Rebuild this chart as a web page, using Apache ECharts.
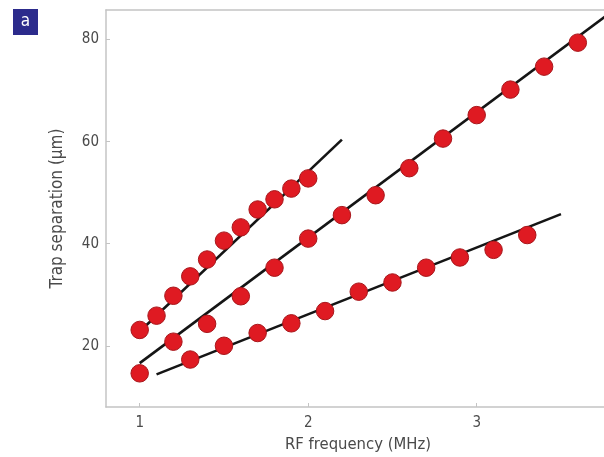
<!DOCTYPE html>
<html>
<head>
<meta charset="utf-8">
<script src="https://cdn.jsdelivr.net/npm/echarts@6/dist/echarts.min.js"></script>
<style>
  html, body { margin: 0; padding: 0; background: #ffffff; }
  #chart { width: 604px; height: 457px; }
</style>
</head>
<body>
<div id="chart"></div>
<script>
// Measured trap separations (µm) against RF drive frequency (MHz), three trap sets
const freqA = [1.0, 1.1, 1.2, 1.3, 1.4, 1.5, 1.6, 1.7, 1.8, 1.9, 2.0];
const sepA  = [23.1, 25.9, 29.8, 33.6, 36.9, 40.6, 43.2, 46.7, 48.7, 50.8, 52.8];

const freqB = [1.2, 1.4, 1.6, 1.8, 2.0, 2.2, 2.4, 2.6, 2.8, 3.0, 3.2, 3.4, 3.6];
const sepB  = [20.8, 24.3, 29.7, 35.3, 41.0, 45.6, 49.5, 54.8, 60.6, 65.2, 70.2, 74.7, 79.4];

const freqC = [1.0, 1.3, 1.5, 1.7, 1.9, 2.1, 2.3, 2.5, 2.7, 2.9, 3.1, 3.3];
const sepC  = [14.6, 17.3, 20.0, 22.5, 24.4, 26.8, 30.6, 32.4, 35.3, 37.3, 38.8, 41.7];

// Linear fits (end points of each fitted line)
const fitFreqA = [1.0, 2.2];
const fitSepA  = [22.8, 60.4];
const fitFreqB = [1.0, 3.79];
const fitSepB  = [16.6, 85.2];
const fitFreqC = [1.1, 3.5];
const fitSepC  = [14.4, 45.8];

// Axis tick positions
const xTicks = [1, 2, 3];
const yTicks = [20, 40, 60, 80];

const FONT = "'Liberation Sans Narrow', 'DejaVu Sans Condensed', 'Roboto', sans-serif";
const AXIS_GREY = '#c4c4c4';
const TEXT_GREY = '#4a4a4a';

const pairs = (xs, ys) => xs.map((x, i) => [x, ys[i]]);

const fitStyle = { color: '#151515', width: 2.6 };
const dotStyle = { color: '#df1a22', borderColor: '#a8161b', borderWidth: 1, opacity: 1 };

function fitSeries(xs, ys) {
  return {
    type: 'line', data: pairs(xs, ys), showSymbol: false, symbol: 'none',
    lineStyle: fitStyle, z: 2, silent: true, animation: false
  };
}
function dotSeries(xs, ys) {
  return {
    type: 'scatter', data: pairs(xs, ys), symbol: 'circle', symbolSize: 17.5,
    itemStyle: dotStyle, z: 3, animation: false
  };
}

const chart = echarts.init(document.getElementById('chart'), null, { renderer: 'canvas' });
chart.setOption({
  backgroundColor: '#ffffff',
  animation: false,
  grid: { left: 106, top: 10, width: 504, height: 397, containLabel: false, outerBoundsMode: 'none' },
  xAxis: [{
    type: 'value', min: 0.8, max: 3.791, position: 'bottom',
    name: 'RF frequency (MHz)', nameLocation: 'middle', nameGap: 29,
    nameTextStyle: { fontFamily: FONT, fontSize: 16.5, color: TEXT_GREY },
    axisLine: { show: true, onZero: false, lineStyle: { color: AXIS_GREY, width: 1.5 } },
    axisTick: { show: true, inside: true, length: 4, customValues: xTicks, lineStyle: { color: AXIS_GREY } },
    axisLabel: { customValues: xTicks, margin: 9, fontFamily: FONT, fontSize: 15, color: TEXT_GREY },
    splitLine: { show: false }
  }, {
    type: 'value', min: 0.8, max: 3.791, position: 'top',
    axisLine: { show: true, onZero: false, lineStyle: { color: AXIS_GREY, width: 1.5 } },
    axisTick: { show: false }, axisLabel: { show: false }, splitLine: { show: false }
  }],
  yAxis: {
    type: 'value', min: 8, max: 85.8,
    name: 'Trap separation (μm)', nameLocation: 'middle', nameGap: 40,
    nameTextStyle: { fontFamily: FONT, fontSize: 17, color: TEXT_GREY },
    axisLine: { show: true, onZero: false, lineStyle: { color: AXIS_GREY, width: 1.5 } },
    axisTick: { show: true, inside: true, length: 4, customValues: yTicks, lineStyle: { color: AXIS_GREY } },
    axisLabel: { customValues: yTicks, margin: 7, fontFamily: FONT, fontSize: 15, color: TEXT_GREY },
    splitLine: { show: false }
  },
  series: [
    fitSeries(fitFreqA, fitSepA),
    fitSeries(fitFreqB, fitSepB),
    fitSeries(fitFreqC, fitSepC),
    dotSeries(freqA, sepA),
    dotSeries(freqB, sepB),
    dotSeries(freqC, sepC)
  ],
  graphic: [{
    type: 'group', left: 13, top: 9,
    children: [
      { type: 'rect', shape: { x: 0, y: 0, width: 25, height: 26 }, style: { fill: '#2c2b8c' } },
      { type: 'text', x: 12.5, y: 13, style: { text: 'a', fill: '#ffffff', font: '17px ' + FONT, align: 'center', verticalAlign: 'middle' } }
    ]
  }]
});
</script>
</body>
</html>
